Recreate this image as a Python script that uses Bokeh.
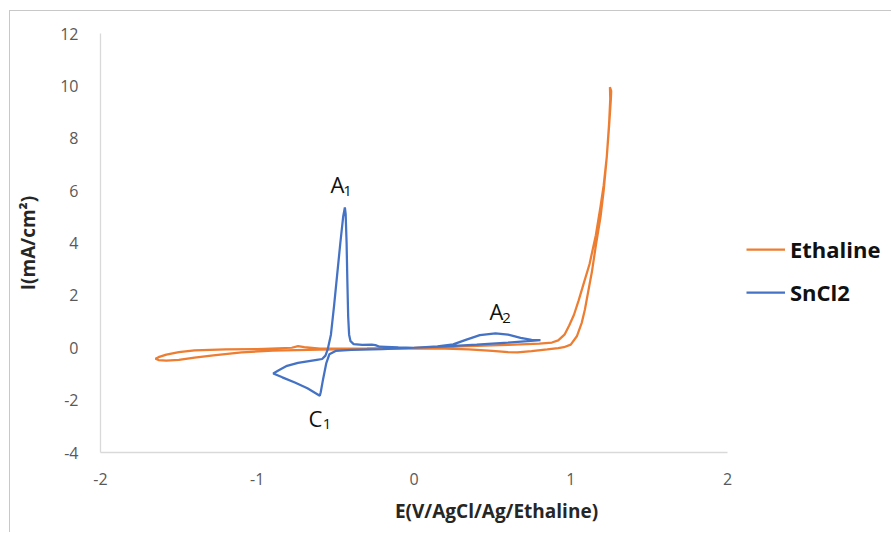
from bokeh.plotting import figure
from bokeh.models import FixedTicker, Legend, LegendItem
from bokeh.embed import file_html
from bokeh.resources import INLINE
from bokeh.core.properties import value

# ---- data ----
eth_x = [0.0, 0.2, 0.35, 0.5, 0.6, 0.66, 0.75, 0.85, 0.92, 0.956, 1.0, 1.04, 1.07, 1.09, 1.11,
         1.135, 1.16, 1.19, 1.21, 1.23, 1.245, 1.252, 1.25, 1.258, 1.256,
         1.245, 1.23, 1.21, 1.19, 1.16, 1.12, 1.08, 1.05, 1.02, 0.99, 0.96, 0.92, 0.88,
         0.8, 0.6, 0.4, 0.2, 0.0, -0.3, -0.6, -0.7, -0.74, -0.78, -1.0, -1.2, -1.4, -1.5,
         -1.58, -1.63, -1.649, -1.63, -1.58, -1.5, -1.4, -1.28, -1.1, -0.9, -0.6, -0.3, 0.0]
eth_y = [-0.02, -0.03, -0.06, -0.12, -0.17, -0.18, -0.13, -0.06, -0.01, 0.02, 0.12, 0.45, 0.95, 1.45, 2.1,
         2.9, 3.9, 5.0, 6.0, 7.3, 8.6, 9.5, 9.95, 9.8, 9.5,
         8.5, 7.3, 6.2, 5.4, 4.3, 3.2, 2.4, 1.8, 1.25, 0.85, 0.5, 0.28, 0.2,
         0.16, 0.11, 0.07, 0.03, 0.0, -0.02, -0.03, 0.02, 0.06, 0.0, -0.05, -0.06, -0.1, -0.17,
         -0.26, -0.36, -0.42, -0.47, -0.49, -0.46, -0.38, -0.29, -0.18, -0.11, -0.07, -0.04, -0.02]

sn_x = [0.807, 0.6, 0.4, 0.2, 0.0, -0.2, -0.4, -0.5, -0.54, -0.56, -0.58, -0.595, -0.601,
        -0.68, -0.76, -0.84, -0.898, -0.86, -0.81, -0.74, -0.68, -0.62, -0.586, -0.565, -0.55,
        -0.53, -0.51, -0.49, -0.47, -0.452, -0.441, -0.436, -0.43, -0.425, -0.42, -0.414, -0.405,
        -0.385, -0.33, -0.27, -0.246, -0.22, -0.1, 0.0, 0.15, 0.25, 0.33, 0.42, 0.52, 0.6, 0.68,
        0.75, 0.807]
sn_y = [0.29, 0.2, 0.12, 0.05, 0.0, -0.05, -0.08, -0.12, -0.25, -0.6, -1.2, -1.7, -1.83,
        -1.55, -1.33, -1.13, -0.98, -0.85, -0.69, -0.58, -0.52, -0.46, -0.43, -0.3, -0.05,
        0.5, 1.6, 2.8, 4.0, 5.0, 5.36, 5.1, 4.0, 2.5, 1.2, 0.5, 0.25,
        0.14, 0.11, 0.12, 0.1, 0.04, 0.01, 0.0, 0.05, 0.13, 0.3, 0.48, 0.55, 0.5, 0.38,
        0.3, 0.29]

series_names = ["Ethaline", "SnCl2"]
x_ticks = [-2, -1, 0, 1, 2]
y_ticks = [-4, -2, 0, 2, 4, 6, 8, 10, 12]

peak_letters = ["A", "A", "C"]
peak_subs = ["1", "2", "1"]
letter_x = [-0.533, 0.482, -0.673]
letter_y = [6.27, 1.42, -2.70]
sub_x = [-0.452, 0.563, -0.582]
sub_y = [6.0, 1.15, -2.90]

ORANGE = "#ED7D31"
BLUE = "#4472C4"

# canvas placed at page (10, 11) by the margin below; frame starts at page (100, 33)
p = figure(width=882, height=522, x_range=(-2, 3.0526), y_range=(-4, 12),
           output_backend="svg", toolbar_location=None,
           min_border_left=90, min_border_right=0, min_border_top=22, min_border_bottom=81)
p.styles = {"margin-left": "9px", "margin-top": "10px",
            "border-left": "1px solid #c8c8c8", "border-top": "1px solid #c8c8c8"}
p.grid.visible = False
p.outline_line_color = None
p.background_fill_color = "white"
p.border_fill_color = "white"

for ax in (p.xaxis[0], p.yaxis[0]):
    ax.axis_line_color = "#d9d9d9"
    ax.axis_line_width = 1.3
    ax.major_tick_line_color = None
    ax.minor_tick_line_color = None
    ax.major_tick_out = 0
    ax.major_label_text_font = "Open Sans"
    ax.major_label_text_font_size = "16px"
    ax.major_label_text_color = "#595959"
    ax.axis_label_text_font = "Open Sans"
    ax.axis_label_text_font_style = "bold"
    ax.axis_label_text_font_size = "19px"
    ax.axis_label_text_color = "#262626"

p.xaxis.ticker = FixedTicker(ticks=x_ticks)
p.xaxis.major_label_overrides = {t: str(t) for t in x_ticks}
p.xaxis.bounds = (-2, 2)
p.xaxis.axis_label = "E(V/AgCl/Ag/Ethaline)"
p.xaxis.major_label_standoff = 20
p.xaxis.axis_label_standoff = 10

p.yaxis.ticker = FixedTicker(ticks=y_ticks)
p.yaxis.major_label_overrides = {t: str(t) for t in y_ticks}
p.yaxis.axis_label = "I(mA/cm\u00b2)"
p.yaxis.major_label_standoff = 22
p.yaxis.axis_label_standoff = 16

r1 = p.line(eth_x, eth_y, line_color=ORANGE, line_width=2.25)
r2 = p.line(sn_x, sn_y, line_color=BLUE, line_width=2.25)

p.text(x=letter_x, y=letter_y, text=peak_letters, text_font=value("Open Sans"),
       text_font_size="22px", text_color="#111111", text_align="left", text_baseline="alphabetic")
p.text(x=sub_x, y=sub_y, text=peak_subs, text_font=value("Open Sans"),
       text_font_size="15px", text_color="#111111", text_align="left", text_baseline="alphabetic")

legend = Legend(items=[LegendItem(label=series_names[0], renderers=[r1]),
                       LegendItem(label=series_names[1], renderers=[r2])],
                location=(646, 145), orientation="vertical",
                border_line_color=None, background_fill_alpha=0,
                padding=0, margin=0, spacing=13,
                glyph_width=39, glyph_height=22, label_height=22, label_standoff=5,
                label_text_font="Open Sans", label_text_font_style="bold",
                label_text_font_size="22px", label_text_color="#111111")
p.add_layout(legend)

open("out.html", "w").write(file_html(p, INLINE))
